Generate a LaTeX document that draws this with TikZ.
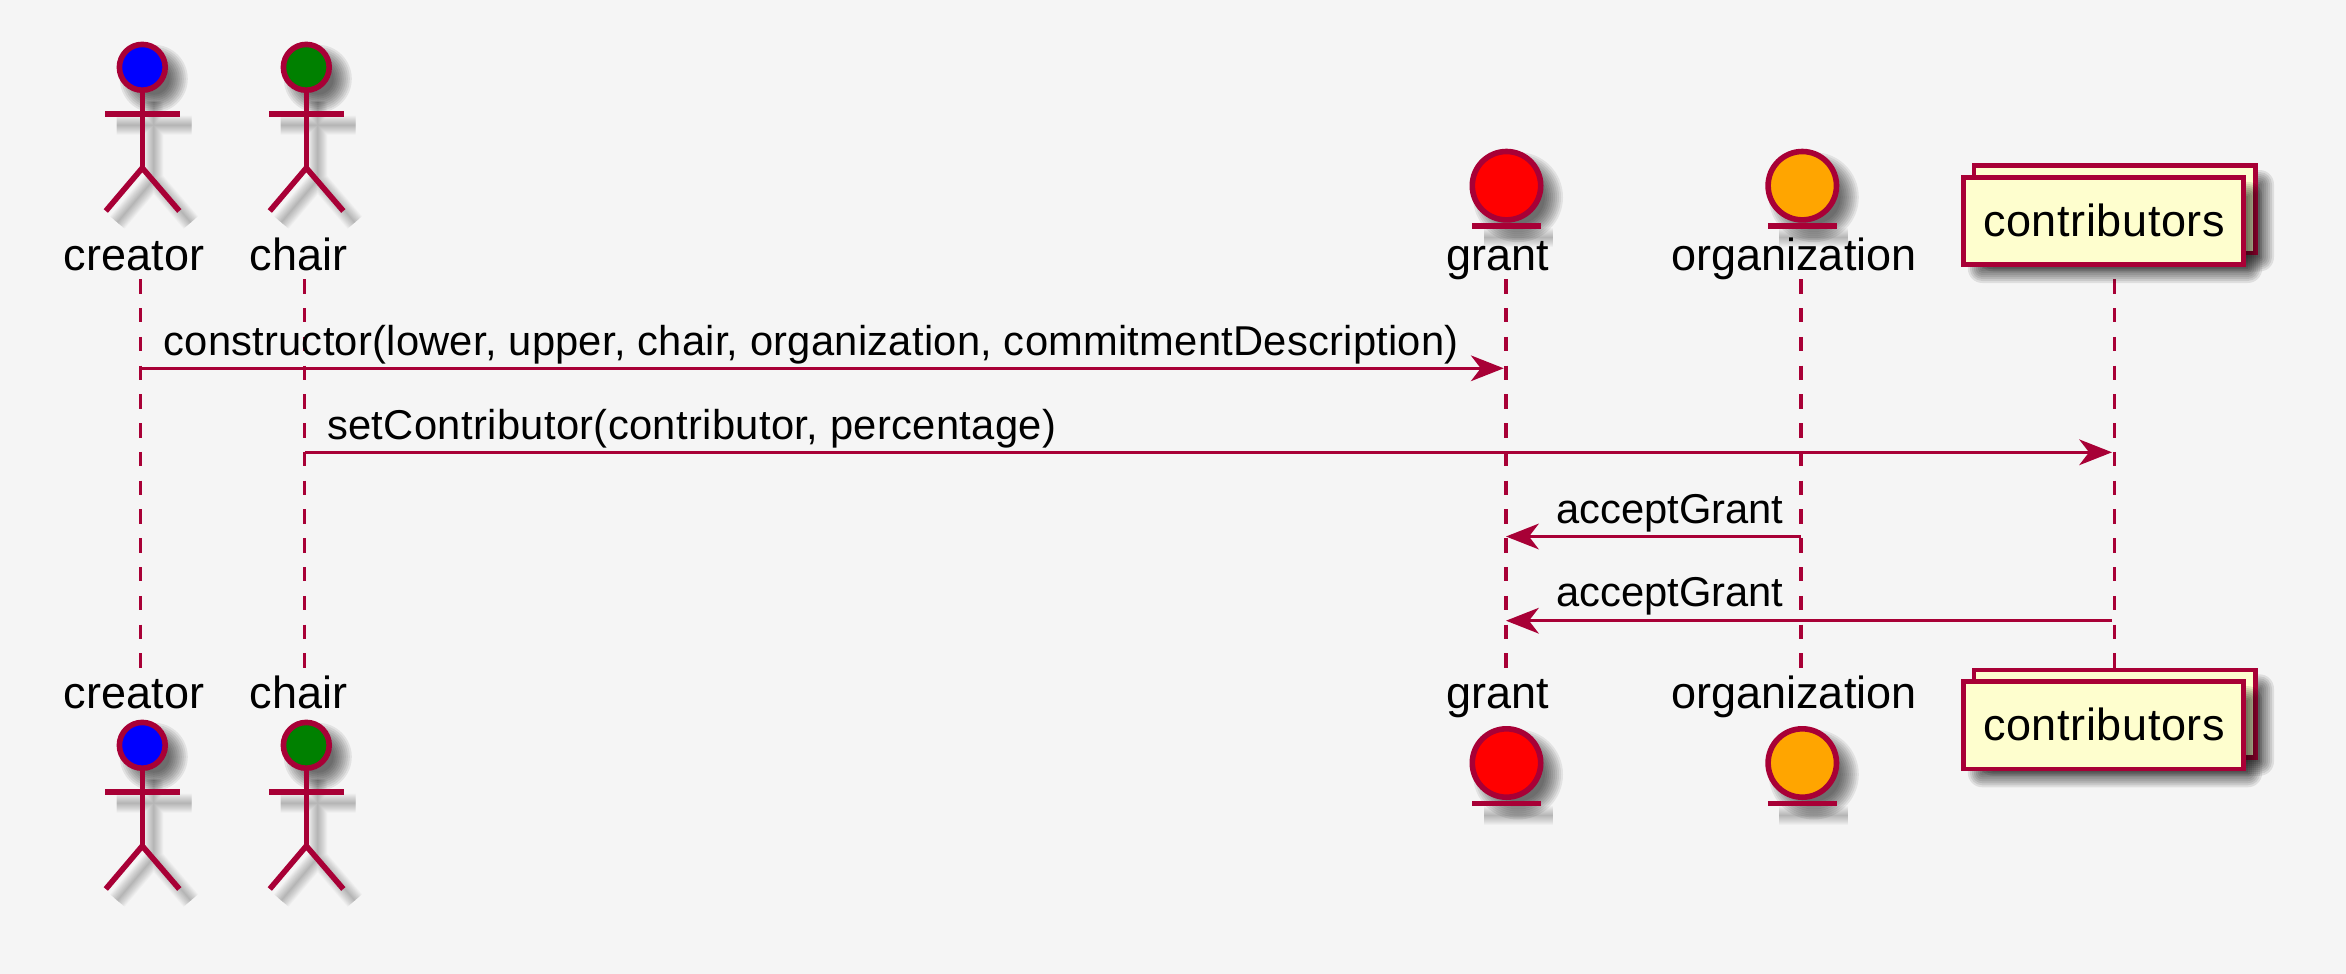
\documentclass[tikz,border=0pt]{standalone}
\usepackage{fontspec}
\setmainfont{Liberation Sans}
\usetikzlibrary{arrows.meta}
\definecolor{umlred}{HTML}{A80036}
\definecolor{umlbg}{HTML}{F5F5F5}
\definecolor{umlbox}{HTML}{FEFECE}
\definecolor{umlorange}{HTML}{FFA500}
\definecolor{umlgreen}{HTML}{008000}
\newcommand{\softline}[1]{\foreach \w in {1,3,5,7,9,11,13,15,17,19}{\draw[black,opacity=.026,line width=\w pt,shift={(11.5,11.5)}] #1;}}
\newcommand{\softcircle}[3]{\foreach \d in {-9,-7,...,9}{\fill[black,opacity=.075,shift={(11.5,11.5)}] (#1,#2) circle[radius=#3+\d];}}
\newcommand{\softrect}[4]{\foreach \d in {-7,-5,...,7}{\fill[black,opacity=.09,shift={(11.5,11.5)},rounded corners=\d+7.5] (#1-\d,#2-\d) rectangle (#3+\d,#4+\d);}}
\tikzset{
  x=1pt,y=-1pt,
  lifeline/.style={draw=umlred,line width=3.2pt,dash pattern=on 14.4pt off 14.37pt},
  msg/.style={draw=umlred,line width=3.3pt,-{Stealth[length=33pt,width=26pt,inset=10pt,line width=0pt]}},
  limb/.style={draw=umlred,line width=5.6pt},
  headnode/.style={circle,draw=umlred,line width=5.6pt,inner sep=0pt,outer sep=0pt,minimum size=45.8pt},
  entnode/.style={circle,draw=umlred,line width=5.6pt,inner sep=0pt,outer sep=0pt,minimum size=68.4pt},
  boxpart/.style={draw=umlred,line width=4.6pt,fill=umlbox},
  plabel/.style={anchor=base,inner sep=0pt,font=\fontsize{45}{54}\selectfont},
  mlabel/.style={anchor=base west,inner sep=0pt,font=\fontsize{41.7}{50}\selectfont},
}
% name, x, y offset, fill
\newcommand{\actorfig}[4]{%
  \begin{scope}[yshift=-#3pt]
  \softcircle{#2}{67.3}{25}
  \softline{(#2,90)--(#2,168) (#2-37.3,113.7)--(#2+37.7,113.7) (#2-36.5,211)--(#2,168)--(#2+37,211)}
  \node[headnode,fill=#4] (#1) at (#2,67.3) {};
  \coordinate (#1hip) at (#2,168);
  \coordinate (#1armL) at (#2-37.3,113.7);
  \coordinate (#1armR) at (#2+37.7,113.7);
  \coordinate (#1legL) at (#2-36.5,211);
  \coordinate (#1legR) at (#2+37,211);
  \draw[limb] (#1.south) -- (#1hip);
  \draw[limb] (#1armL) -- (#1armR);
  \draw[limb] (#1legL) -- (#1hip) -- (#1legR);
  \end{scope}}
\newcommand{\entityfig}[4]{%
  \begin{scope}[yshift=-#3pt]
  \softcircle{#2}{185.7}{36}
  \softline{(#2-34.5,226.2)--(#2+34.5,226.2)}
  \node[entnode,fill=#4] (#1) at (#2,185.7) {};
  \coordinate (#1barL) at (#2-34.5,226.2);
  \coordinate (#1barR) at (#2+34.5,226.2);
  \draw[limb] (#1barL) -- (#1barR);
  \end{scope}}
\newcommand{\stackbox}[2]{%
  \begin{scope}[yshift=-#2pt]
  \softrect{1974}{165.5}{2255.5}{253}
  \node[boxpart,minimum width=281.5pt,minimum height=87.5pt,inner sep=0pt,outer sep=0pt] (#1back) at (2114.75,209.25) {};
  \softrect{1963.3}{177.3}{2243.7}{264.5}
  \node[boxpart,minimum width=280.4pt,minimum height=87.2pt,inner sep=0pt,outer sep=0pt] (#1) at (2103.5,220.9) {};
  \node[plabel] (#1text) at (2104,236.5) {\addfontfeatures{LetterSpace=1.4}contributors};
  \end{scope}}
\begin{document}
\begin{tikzpicture}
\useasboundingbox (0,0) rectangle (2346,974);
\fill[umlbg] (0,0) rectangle (2346,974);
% lifelines
\coordinate (lcT) at (140.7,279.3); \coordinate (lcB) at (140.7,668);
\coordinate (lhT) at (304.7,279.3); \coordinate (lhB) at (304.7,668);
\coordinate (lgT) at (1506,279.3);  \coordinate (lgB) at (1506,668);
\coordinate (loT) at (1801,279.3);  \coordinate (loB) at (1801,668);
\coordinate (lkT) at (2114.7,279.3);\coordinate (lkB) at (2114.7,668);
\draw[lifeline] (lcT) -- (lcB);
\draw[lifeline] (lhT) -- (lhB);
\draw[lifeline] (lgT) -- (lgB);
\draw[lifeline] (loT) -- (loB);
\draw[lifeline] (lkT) -- (lkB);
% participants, top
\actorfig{creatorTop}{142.3}{0}{blue}
\actorfig{chairTop}{306.3}{0}{umlgreen}
\entityfig{grantTop}{1506.5}{0}{red}
\entityfig{orgTop}{1802.3}{0}{umlorange}
\stackbox{contribTop}{0}
\node[plabel] (creatorTopL) at (134,270.5) {creator};
\node[plabel] (chairTopL) at (298.5,270.5) {chair};
\node[plabel] (grantTopL) at (1498,270.5) {grant};
\node[plabel] (orgTopL) at (1794,270.5) {organization};
% participants, bottom
\actorfig{creatorBot}{142.3}{678}{blue}
\actorfig{chairBot}{306.3}{678}{umlgreen}
\entityfig{grantBot}{1506.5}{577.3}{red}
\entityfig{orgBot}{1802.3}{577.3}{umlorange}
\stackbox{contribBot}{504.3}
\node[plabel] (creatorBotL) at (134,708.9) {creator};
\node[plabel] (chairBotL) at (298.5,708.9) {chair};
\node[plabel] (grantBotL) at (1498,708.9) {grant};
\node[plabel] (orgBotL) at (1794,708.9) {organization};
% messages
\coordinate (m1a) at (140.7,368.3); \coordinate (m1b) at (1503.7,368.3);
\coordinate (m2a) at (304.7,452.3); \coordinate (m2b) at (2112,452.3);
\coordinate (m3a) at (1801,536.5);  \coordinate (m3b) at (1506,536.5);
\coordinate (m4a) at (2111.7,620.7);\coordinate (m4b) at (1506,620.7);
\draw[msg] (m1a) -- (m1b);
\draw[msg] (m2a) -- (m2b);
\draw[msg] (m3a) -- (m3b);
\draw[msg] (m4a) -- (m4b);
\node[mlabel] (m1t) at (163.3,355) {\addfontfeatures{LetterSpace=0.6}constructor(lower, upper, chair, organization, commitmentDescription)};
\node[mlabel] (m2t) at (327,439) {\addfontfeatures{LetterSpace=0.83}setContributor(contributor, percentage)};
\node[mlabel] (m3t) at (1556,523) {acceptGrant};
\node[mlabel] (m4t) at (1556,606.5) {acceptGrant};
\end{tikzpicture}
\end{document}
